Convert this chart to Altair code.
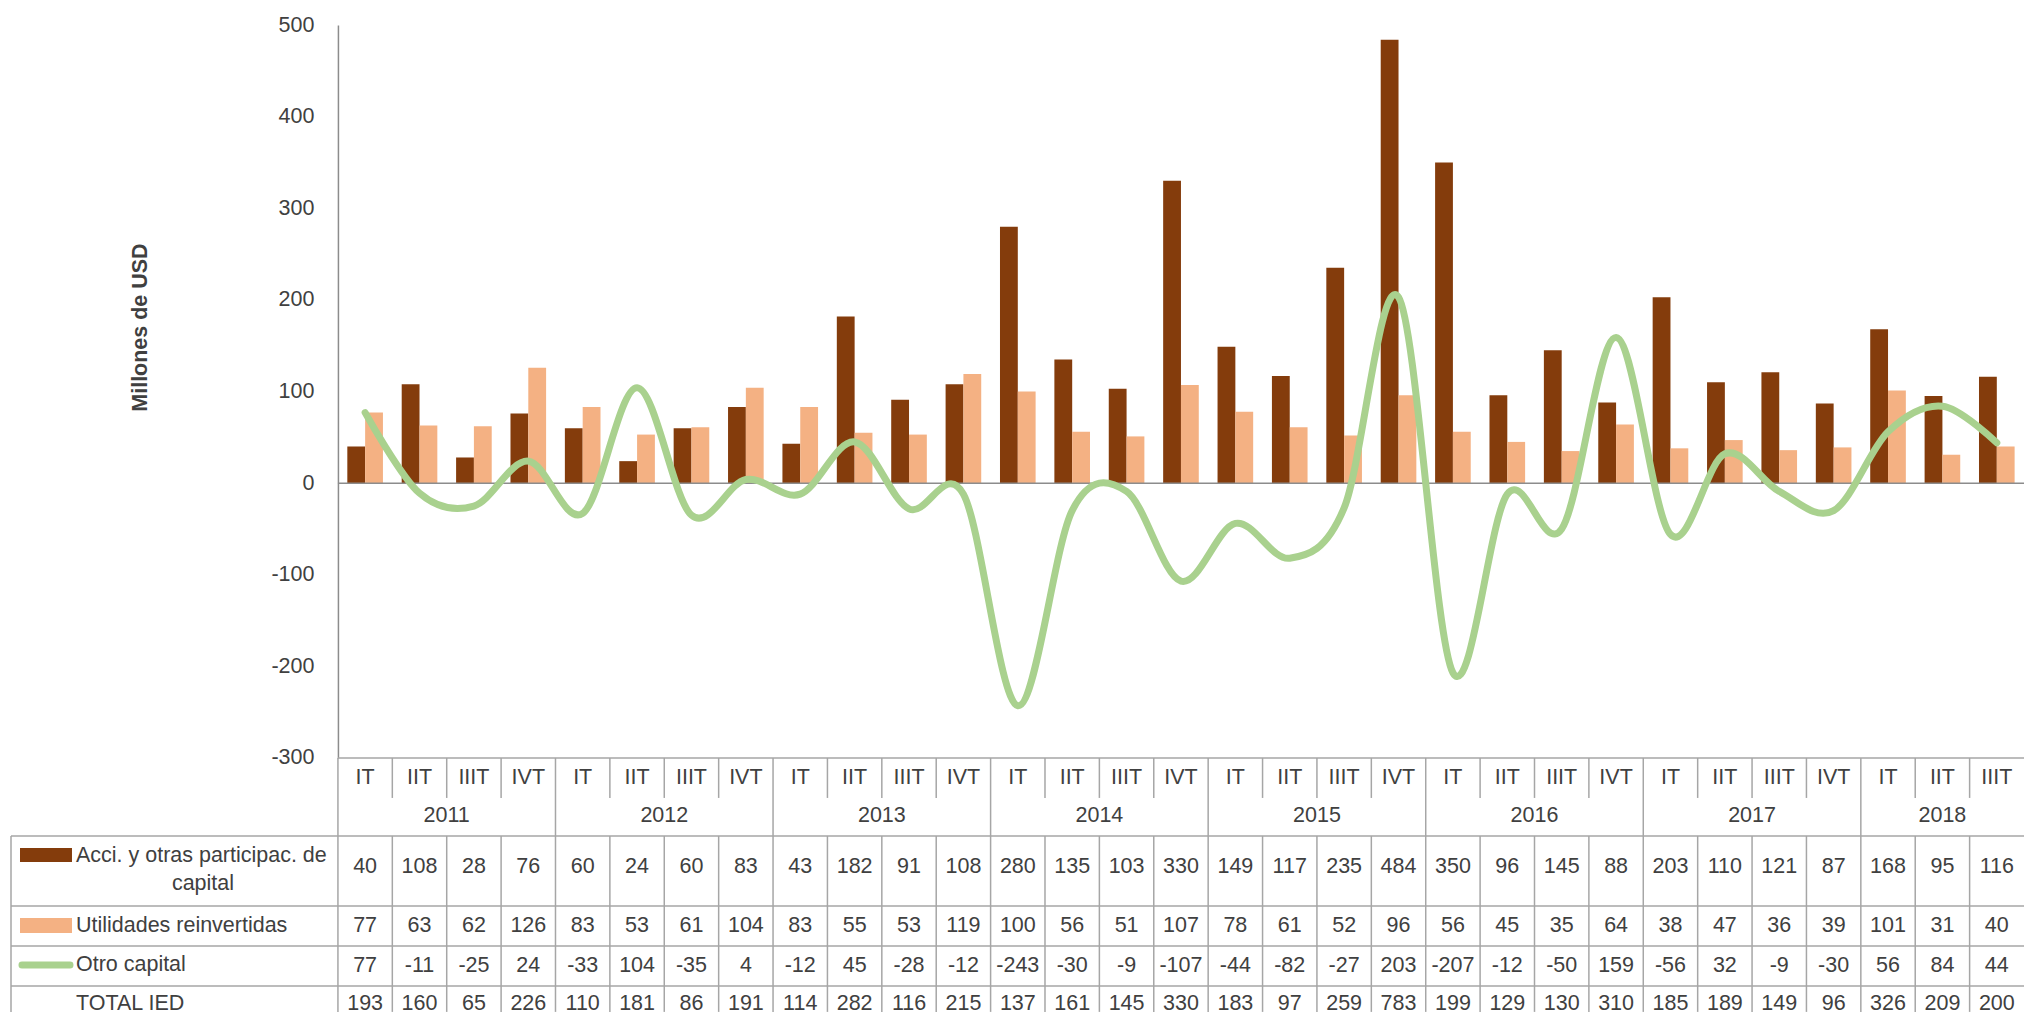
import altair as alt
import pandas as pd

# ---------------- data ----------------
years = [2011, 2012, 2013, 2014, 2015, 2016, 2017, 2018]
quarters_per_year = [4, 4, 4, 4, 4, 4, 4, 3]
quarter_names = ["IT", "IIT", "IIIT", "IVT"]

acci = [40, 108, 28, 76, 60, 24, 60, 83, 43, 182, 91, 108, 280, 135, 103, 330,
        149, 117, 235, 484, 350, 96, 145, 88, 203, 110, 121, 87, 168, 95, 116]
util = [77, 63, 62, 126, 83, 53, 61, 104, 83, 55, 53, 119, 100, 56, 51, 107,
        78, 61, 52, 96, 56, 45, 35, 64, 38, 47, 36, 39, 101, 31, 40]
otro = [77, -11, -25, 24, -33, 104, -35, 4, -12, 45, -28, -12, -243, -30, -9, -107,
        -44, -82, -27, 203, -207, -12, -50, 159, -56, 32, -9, -30, 56, 84, 44]
total = [193, 160, 65, 226, 110, 181, 86, 191, 114, 282, 116, 215, 137, 161, 145, 330,
         183, 97, 259, 783, 199, 129, 130, 310, 185, 189, 149, 96, 326, 209, 200]

s_acci = "Acci. y otras participac. de capital"
s_util = "Utilidades reinvertidas"
s_otro = "Otro capital"
s_total = "TOTAL IED"
y_ticks = [-300, -200, -100, 0, 100, 200, 300, 400, 500]

# ---------------- style / layout ----------------
BROWN, PEACH, GREEN = "#843C0C", "#F4B183", "#A9D18E"
TEXT, LINEC, AXISC = "#404040", "#a6a6a6", "#8c8c8c"
FONT = "Liberation Sans, Arial, sans-serif"
FS = 21.5
STEP = 54.4
N = len(acci)
W = N * STEP
H = 733
TH = 254
ROW_B = [0, 40, 78, 148, 188, 228, TH]
Q_Y, YR_Y = 20, 58
ROW_Y = [109, 168, 208, 246]

def ux(px):
    return px / STEP

# keys
keys, qlabels, ystart = [], [], []
idx = 0
for yr, n in zip(years, quarters_per_year):
    ystart.append(idx)
    for q in quarter_names[:n]:
        keys.append(f"{yr}-{q}")
        qlabels.append(q)
        idx += 1

color_scale = alt.Scale(domain=[s_acci, s_util], range=[BROWN, PEACH])

# ---------------- main chart ----------------
bar_df = pd.DataFrame({
    "key": keys * 2,
    "series": [s_acci] * N + [s_util] * N,
    "value": acci + util,
})
line_df = pd.DataFrame({"key": keys, "value": otro})
zero_df = pd.DataFrame({"value": [0]})

xenc = alt.X("key:N", sort=keys, axis=None,
             scale=alt.Scale(paddingInner=0.345, paddingOuter=0.1725))
yscale = alt.Scale(domain=[-300, 500], nice=False, zero=False)
yaxis = alt.Axis(values=y_ticks, ticks=False, grid=False, labelPadding=24,
                 labelExpr="'' + datum.value",
                 labelFont=FONT, labelFontSize=FS, labelColor=TEXT,
                 domainColor=AXISC, domainWidth=1.5,
                 titleFont=FONT, titleFontSize=FS,
                 titleFontWeight="bold", titleColor=TEXT,
                 titleX=-197, titleY=302, titleAngle=270,
                 titleAlign="center", titleBaseline="middle")
yenc = alt.Y("value:Q", scale=yscale, axis=yaxis, title="Millones de USD")

bars = alt.Chart(bar_df).mark_bar().encode(
    x=xenc,
    xOffset=alt.XOffset("series:N", sort=[s_acci, s_util],
                        scale=alt.Scale(paddingInner=0, paddingOuter=0)),
    y=yenc,
    color=alt.Color("series:N", scale=color_scale, legend=None),
)
zero = alt.Chart(zero_df).mark_rule(color=AXISC, strokeWidth=1.5).encode(y=yenc)
line = alt.Chart(line_df).mark_line(
    color=GREEN, strokeWidth=7, interpolate="cardinal", strokeCap="round"
).encode(x=xenc, y=yenc)

main = alt.layer(bars, zero, line).properties(width=W, height=H)

# ---------------- table ----------------
xs = alt.Scale(domain=[0, N], range=[0, W], nice=False, zero=False)
ys = alt.Scale(domain=[0, TH], reverse=True, nice=False, zero=False)
X = alt.X("x:Q", scale=xs, axis=None)
Y = alt.Y("y:Q", scale=ys, axis=None)

cell_rows = []
for i in range(N):
    cell_rows.append({"x": i + 0.5, "y": Q_Y, "t": qlabels[i]})
    for r, arr in enumerate([acci, util, otro, total]):
        cell_rows.append({"x": i + 0.5, "y": ROW_Y[r], "t": str(arr[i])})
for yr, s, n in zip(years, ystart, quarters_per_year):
    cell_rows.append({"x": s + n / 2, "y": YR_Y, "t": str(yr)})
cells_df = pd.DataFrame(cell_rows)

LEFT = ux(-327)
seg = []
seg.append({"x": 0, "x2": N, "y": 0, "y2": 0})
for b in ROW_B[2:6]:
    seg.append({"x": LEFT, "x2": N, "y": b, "y2": b})
seg.append({"x": LEFT, "x2": LEFT, "y": ROW_B[2], "y2": TH})
seg.append({"x": 0, "x2": 0, "y": 0, "y2": TH})
year_bounds = set(ystart[1:])
for b in range(1, N):
    if b in year_bounds:
        seg.append({"x": b, "x2": b, "y": 0, "y2": TH})
    else:
        seg.append({"x": b, "x2": b, "y": 0, "y2": ROW_B[1]})
        seg.append({"x": b, "x2": b, "y": ROW_B[2], "y2": TH})
seg_df = pd.DataFrame(seg)

tmark = dict(font=FONT, fontSize=FS, color=TEXT, baseline="middle")

cells = alt.Chart(cells_df).mark_text(align="center", **tmark).encode(
    x=X, y=Y, text="t:N")
grid = alt.Chart(seg_df).mark_rule(color=LINEC, strokeWidth=1.5).encode(
    x=X, x2="x2:Q", y=Y, y2="y2:Q")

lab_left = pd.DataFrame({
    "x": [ux(-262)] * 4,
    "y": [98, 168, 207, 246],
    "t": ["Acci. y otras participac. de", s_util, s_otro, s_total],
})
lab_center = pd.DataFrame({"x": [ux(-135)], "y": [126], "t": ["capital"]})
labels_l = alt.Chart(lab_left).mark_text(align="left", **tmark).encode(x=X, y=Y, text="t:N")
labels_c = alt.Chart(lab_center).mark_text(align="center", **tmark).encode(x=X, y=Y, text="t:N")

sw_df = pd.DataFrame({
    "series": [s_acci, s_util],
    "x": [ux(-318)] * 2, "x2": [ux(-266)] * 2,
    "y": [90, 160], "y2": [104, 175],
})
swatch = alt.Chart(sw_df).mark_rect().encode(
    x=X, x2="x2:Q", y=Y, y2="y2:Q",
    color=alt.Color("series:N", scale=color_scale, legend=None))
sw_line_df = pd.DataFrame({"x": [ux(-316)], "x2": [ux(-268)], "y": [207]})
sw_line = alt.Chart(sw_line_df).mark_rule(color=GREEN, strokeWidth=7, strokeCap="round").encode(
    x=X, x2="x2:Q", y=Y)

table = alt.layer(grid, cells, labels_l, labels_c, swatch, sw_line).properties(width=W, height=TH)

chart = alt.vconcat(main, table, spacing=0, bounds="flush").properties(
    padding={"left": 1, "top": 5, "right": 0, "bottom": 0}
).configure_view(stroke="transparent")

chart.save("out.html", embed_options={"renderer": "svg", "actions": False})
